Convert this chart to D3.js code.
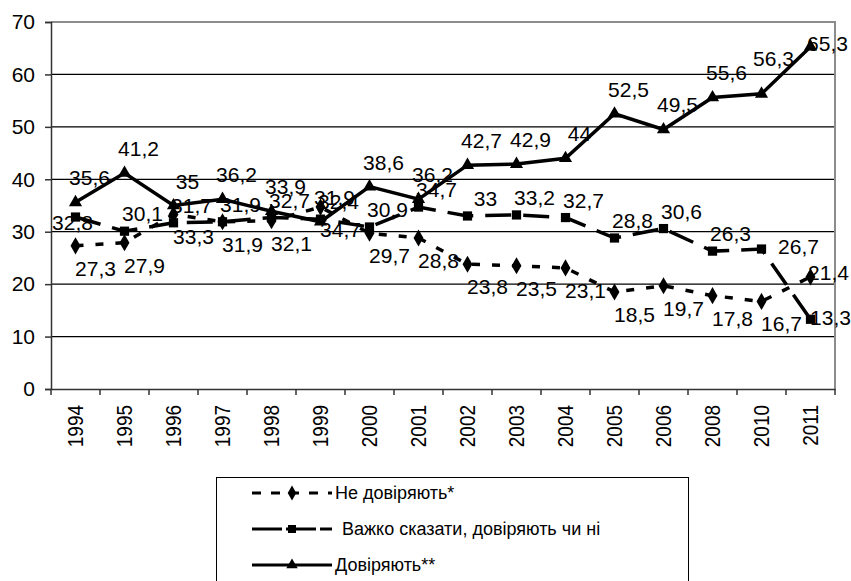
<!DOCTYPE html>
<html>
<head>
<meta charset="utf-8">
<script src="https://cdn.jsdelivr.net/npm/d3@7"></script>
<style>
  body { margin: 0; background: #fff; }
  svg { display: block; font-family: "Liberation Sans", Arial, sans-serif; }
</style>
</head>
<body>
<svg id="chart"></svg>
<script>
const years = ["1994", "1995", "1996", "1997", "1998", "1999", "2000", "2001",
  "2002", "2003", "2004", "2005", "2006", "2008", "2010", "2011"];
const notTrust = [27.3, 27.9, 33.3, 31.9, 32.1, 34.7, 29.7, 28.8, 23.8, 23.5, 23.1, 18.5, 19.7, 17.8, 16.7, 21.4];
const hardToSay = [32.8, 30.1, 31.7, 31.9, 32.7, 32.4, 30.9, 34.7, 33, 33.2, 32.7, 28.8, 30.6, 26.3, 26.7, 13.3];
const trust = [35.6, 41.2, 35, 36.2, 33.9, 31.9, 38.6, 36.2, 42.7, 42.9, 44, 52.5, 49.5, 55.6, 56.3, 65.3];
const yTicks = [0, 10, 20, 30, 40, 50, 60, 70];
const seriesNames = ["Не довіряють*", "Важко сказати, довіряють чи ні", "Довіряють**"];

const width = 851;
const height = 581;
const plotLeft = 51, plotRight = 835, plotTop = 22, plotBottom = 389;

const svg = d3.select("#chart")
  .attr("width", width)
  .attr("height", height);

const xScale = d3.scaleBand()
  .domain(years)
  .range([plotLeft, plotRight]);

const yScale = d3.scaleLinear()
  .domain([0, 70])
  .range([plotBottom, plotTop]);

// grid lines
svg.selectAll(".grid")
  .data(yTicks.filter(d => d > 0 && d < 70))
  .enter().append("line")
  .attr("class", "grid")
  .attr("x1", plotLeft)
  .attr("x2", plotRight)
  .attr("y1", d => yScale(d))
  .attr("y2", d => yScale(d))
  .attr("stroke", "#000")
  .attr("stroke-width", 1.2);

// top and right border
svg.append("path")
  .attr("d", `M${plotLeft},${yScale(70)}H${plotRight}V${plotBottom}`)
  .attr("fill", "none")
  .attr("stroke", "#8c8c8c")
  .attr("stroke-width", 2);

// y axis
const yAxis = svg.append("g")
  .attr("transform", `translate(${plotLeft},0)`)
  .call(d3.axisLeft(yScale).tickValues(yTicks).tickSize(6).tickPadding(10));

// x axis, ticks at band edges
const xAxis = svg.append("g")
  .attr("transform", `translate(0,${plotBottom})`)
  .call(d3.axisBottom(xScale).tickSize(0).tickPadding(0));

xAxis.selectAll(".tick text")
  .attr("transform", "rotate(-90) scale(1,1.2)")
  .attr("text-anchor", "end")
  .attr("x", -16)
  .attr("y", 0)
  .attr("dy", "0.35em")
  .style("font-size", "19px");

svg.selectAll(".xtick")
  .data(years.concat(["end"]))
  .enter().append("line")
  .attr("class", "xtick")
  .attr("x1", (d, i) => plotLeft + i * xScale.step())
  .attr("x2", (d, i) => plotLeft + i * xScale.step())
  .attr("y1", plotBottom)
  .attr("y2", plotBottom + 6)
  .attr("stroke", "#333")
  .attr("stroke-width", 1.5);

[xAxis, yAxis].map((axis) => {
  axis.select(".domain").attr("stroke", "#333").attr("stroke-width", 1.5);
  axis.selectAll(".tick line").attr("stroke", "#333").attr("stroke-width", 1.5);
  axis.selectAll(".tick text").attr("fill", "#000").style("font-family", "Liberation Sans, Arial, sans-serif");
});

yAxis.selectAll(".tick text").style("font-size", "21px");

const cx = d => xScale(d) + xScale.bandwidth() / 2;
const line = d3.line()
  .x(d => cx(d.year))
  .y(d => yScale(d.value));

const series = [
  { name: seriesNames[0], values: notTrust, dash: "8,12", symbol: d3.symbolDiamond, size: 85, dx: 20, dy: 30,
    nudge: { "2011": [18, 3] } },
  { name: seriesNames[1], values: hardToSay, dash: "26,12", symbol: d3.symbolSquare, size: 85, dx: 18, dy: -10,
    nudge: { "1994": [-3, 13], "2010": [37, 5], "2011": [20, 6] } },
  { name: seriesNames[2], values: trust, dash: null, symbol: d3.symbolTriangle, size: 75, dx: 14, dy: -17,
    nudge: { "2010": [12, -28], "2011": [17, 4] } }
];

series.forEach(s => {
  const pts = years.map((y, i) => ({ year: y, value: s.values[i] }));
  const off = d => s.nudge[d.year] || [s.dx, s.dy];

  svg.append("path")
    .datum(pts)
    .attr("d", line)
    .attr("fill", "none")
    .attr("stroke", "#000")
    .attr("stroke-width", 3.5)
    .attr("stroke-dasharray", s.dash);

  svg.selectAll(null)
    .data(pts)
    .enter().append("path")
    .attr("d", d3.symbol().type(s.symbol).size(s.size))
    .attr("transform", d => `translate(${cx(d.year)},${yScale(d.value)})`)
    .attr("fill", "#000");

  svg.selectAll(null)
    .data(pts)
    .enter().append("text")
    .attr("x", d => cx(d.year) + off(d)[0])
    .attr("y", d => yScale(d.value) + off(d)[1])
    .attr("text-anchor", "middle")
    .style("font-size", "21px")
    .text(d => String(d.value).replace(".", ","));
});

// legend
const legend = svg.append("g");
legend.append("rect")
  .attr("x", 216.5)
  .attr("y", 477.5)
  .attr("width", 472)
  .attr("height", 110)
  .attr("fill", "#fff")
  .attr("stroke", "#000")
  .attr("stroke-width", 1);

series.forEach((s, i) => {
  const ly = 493 + i * 36;
  legend.append("line")
    .attr("x1", 252)
    .attr("x2", 332)
    .attr("y1", ly)
    .attr("y2", ly)
    .attr("stroke", "#000")
    .attr("stroke-width", 3)
    .attr("stroke-dasharray", i === 0 ? "9,10" : i === 1 ? "30,4" : null);
  legend.append("path")
    .attr("d", d3.symbol().type(s.symbol).size(s.size * 0.75))
    .attr("transform", `translate(292,${ly})`)
    .attr("fill", "#000");
  legend.append("text")
    .attr("x", i === 1 ? 342 : 335)
    .attr("y", ly)
    .attr("dy", "0.35em")
    .style("font-size", "18px")
    .text(s.name);
});
</script>
</body>
</html>
